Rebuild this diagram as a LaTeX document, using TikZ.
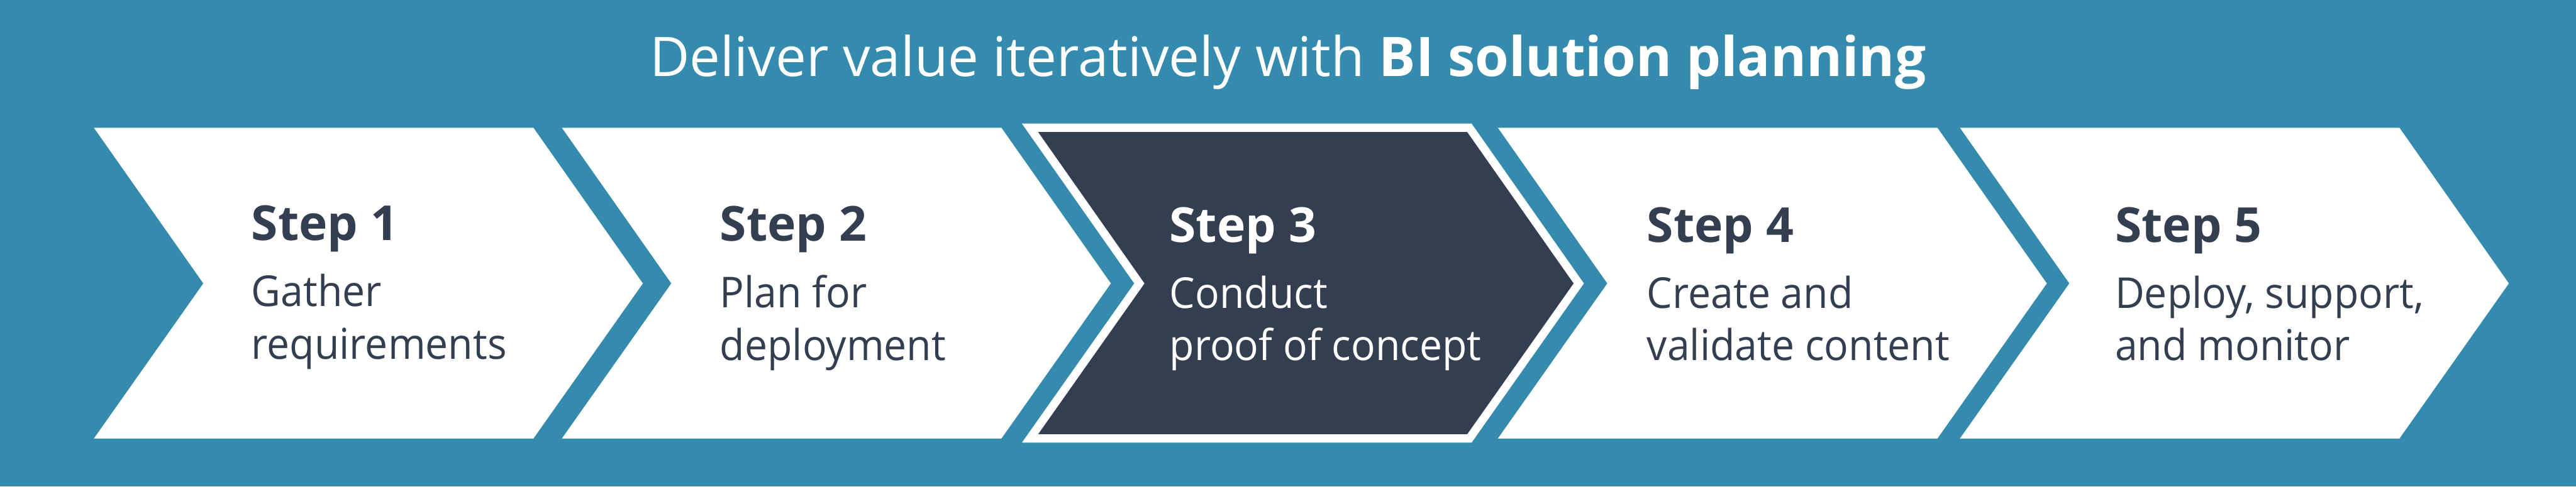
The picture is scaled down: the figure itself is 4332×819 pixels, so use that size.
\documentclass[tikz,border=0pt]{standalone}
\usepackage{fontspec}
\setmainfont{Open Sans}
\newfontfamily\descfont[FakeStretch=0.95]{Open Sans}
\definecolor{bgblue}{HTML}{348BAD}
\definecolor{darkfill}{HTML}{333F50}
\tikzset{
  chev/.style={fill=white, draw=none},
  chevhl/.style={fill=darkfill, draw=white, line width=3.5pt, line join=miter},
  steplbl/.style={anchor=base west, inner sep=0pt, text=darkfill, font=\fontsize{20.3}{24}\selectfont\bfseries},
  desclbl/.style={anchor=base west, inner sep=0pt, text=darkfill, font=\descfont\fontsize{17.9}{22}\selectfont},
  titlelbl/.style={anchor=base, inner sep=0pt, text=white, font=\fontsize{23}{28}\selectfont}
}
\newcommand{\chevpath}[1]{(#1,215) -- ++(739,0) -- ++(184,262) -- ++(-184,261) -- ++(-739,0) -- ++(184,-261) -- cycle}
\begin{document}
\begin{tikzpicture}[x=0.25pt,y=-0.25pt]
\fill[bgblue] (0,0) rectangle (4332,819);
\useasboundingbox (0,0) rectangle (4332,819);
\node[titlelbl] (title) at (2166,128) {Deliver value iteratively with \textbf{BI solution planning}};
% chevrons
\path[chev] \chevpath{158};
\path[chev] \chevpath{945};
\path[chevhl] \chevpath{1732};
\path[chev] \chevpath{2519};
\path[chev] \chevpath{3296};
% step 1
\node[steplbl] (s1) at (422,404) {Step 1};
\node[desclbl] (d1a) at (422,516) {Gather};
\node[desclbl] (d1b) at (422,604) {requirements};
% step 2
\node[steplbl] (s2) at (1210,406) {Step 2};
\node[desclbl] (d2a) at (1210,518) {Plan for};
\node[desclbl] (d2b) at (1210,606) {deployment};
% step 3
\node[steplbl, text=white] (s3) at (1966,408) {Step 3};
\node[desclbl, text=white] (d3a) at (1966,519) {Conduct};
\node[desclbl, text=white] (d3b) at (1966,607) {proof of concept};
% step 4
\node[steplbl] (s4) at (2769,408) {Step 4};
\node[desclbl] (d4a) at (2769,519) {Create and};
\node[desclbl] (d4b) at (2769,607) {validate content};
% step 5
\node[steplbl] (s5) at (3556,408) {Step 5};
\node[desclbl] (d5a) at (3556,519) {Deploy, support,};
\node[desclbl] (d5b) at (3556,607) {and monitor};
\end{tikzpicture}
\end{document}
